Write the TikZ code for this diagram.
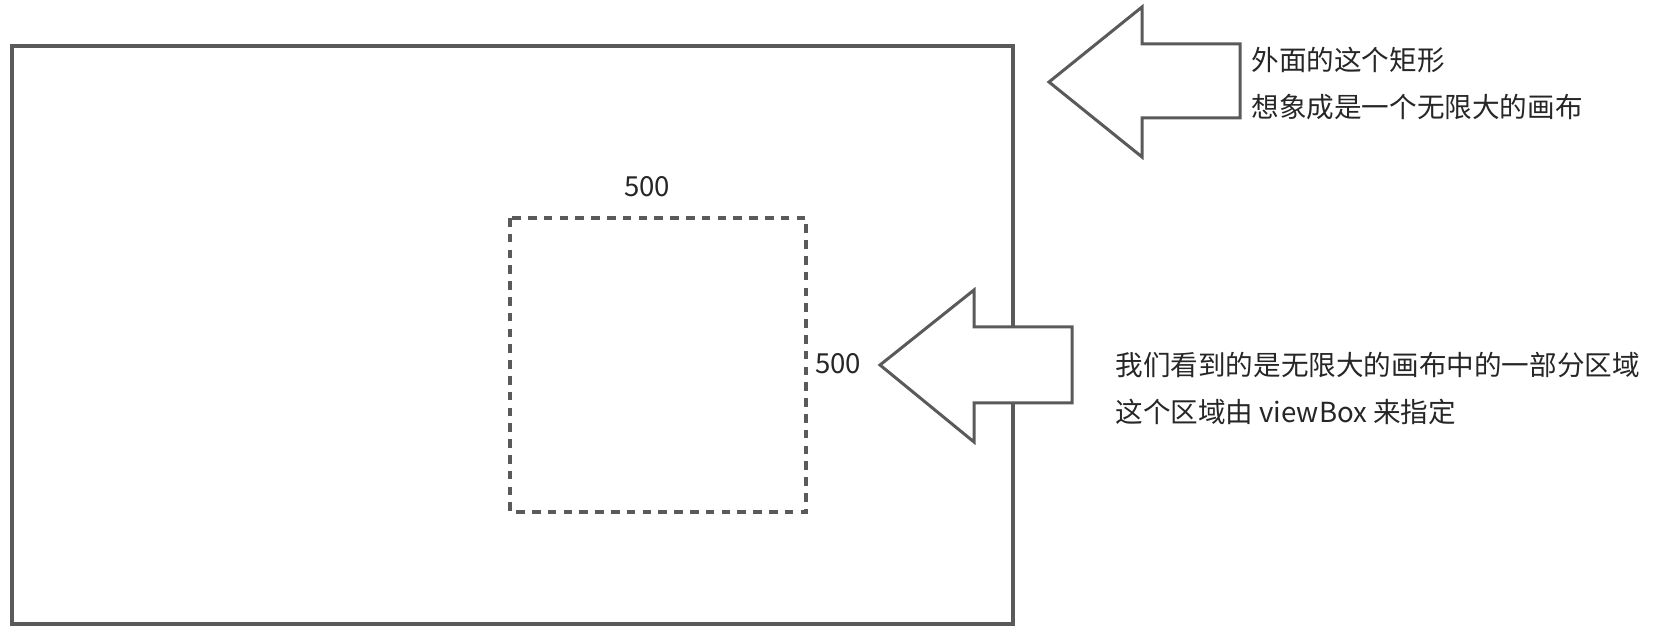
\documentclass[tikz,border=0pt]{standalone}
\usepackage{fontspec}
\setmainfont{Noto Sans CJK SC}
\usetikzlibrary{positioning}
\definecolor{linegray}{HTML}{5A5A5A}
\definecolor{textgray}{HTML}{262626}

\begin{document}
\begin{tikzpicture}
        [x=0.5pt, y=-0.5pt,
         canvas/.style={draw=linegray, line width=2pt},
         viewbox/.style={draw=linegray, line width=1.7pt, dash pattern=on 4.3pt off 3.6pt},
         bigarrow/.style={draw=linegray, fill=white, line width=1.5pt, line join=miter},
         numtext/.style={text=textgray, inner sep=0pt, font=\fontsize{13.8}{23.5}\selectfont},
         notetext/.style={numtext, align=left, anchor=west}]
        \useasboundingbox (0,0) rectangle (1666,630);

        \draw[canvas] (12,46) rectangle (1013,624);
        \draw[viewbox] (510,218) rectangle (806,512);
        \node[numtext] (width) at (647,187) {500};
        \node[numtext] (height) at (838,364) {500};

        % arrow pointing at the outer rectangle
        \draw[bigarrow] (1049,82) -- (1142,7) -- (1142,44) -- (1240,44)
            -- (1240,118) -- (1142,118) -- (1142,157) -- cycle;
        \node[notetext] (outer) at (1251,84) {外面的这个矩形\\想象成是一个无限大的画布};

        % arrow pointing at the viewBox
        \draw[bigarrow] (880,365) -- (974,290) -- (974,327) -- (1072,327)
            -- (1072,403) -- (974,403) -- (974,442) -- cycle;
        \node[notetext] (view) at (1115,388.5) {我们看到的是无限大的画布中的一部分区域\\这个区域由 viewBox 来指定};
    \end{tikzpicture}
\end{document}
